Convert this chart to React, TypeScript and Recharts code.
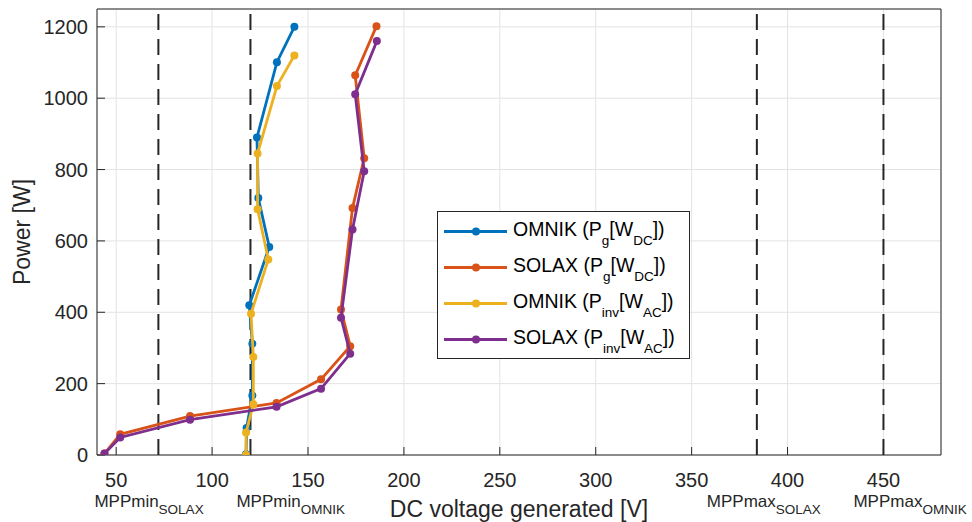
import {
  CartesianGrid,
  Legend,
  ReferenceLine,
  Scatter,
  ScatterChart,
  XAxis,
  YAxis,
} from "recharts";

const FONT = '"Liberation Sans", Arial, Helvetica, sans-serif';
const INK = "#262626";

// DC voltage [V] / power [W] per measurement, low to high load
const omnikPgVolts = [117.7, 118, 121, 121, 119.4, 129.8, 124.1, 123.4, 133.8, 142.9];
const omnikPgWatts = [2, 76, 167, 312, 420, 583, 720, 890, 1101, 1200];

const solaxPgVolts = [43.9, 52.1, 88.5, 133.6, 156.8, 172, 167.2, 173.2, 179.3, 174.6, 185.7];
const solaxPgWatts = [4, 58, 109, 146, 212, 305, 408, 692, 832, 1064, 1202];

const omnikInvVolts = [117.7, 117.7, 121.5, 121.5, 120.3, 129.3, 123.7, 123.7, 133.8, 142.9];
const omnikInvWatts = [0, 63, 142, 275, 396, 548, 689, 845, 1034, 1120];

const solaxInvVolts = [43.9, 52.1, 88.5, 133.6, 156.8, 172, 167.2, 173.2, 179.3, 174.6, 185.9];
const solaxInvWatts = [4, 49, 99, 135, 186, 284, 385, 632, 795, 1011, 1160];

const seriesNames = [
  "OMNIK (P_{g}[W_{DC}])",
  "SOLAX (P_{g}[W_{DC}])",
  "OMNIK (P_{inv}[W_{AC}])",
  "SOLAX (P_{inv}[W_{AC}])",
];

const xTicks = [50, 100, 150, 200, 250, 300, 350, 400, 450];
const yTicks = [0, 200, 400, 600, 800, 1000, 1200];

// MPP window limits of each inverter
const mppVolts = [72, 120, 384, 450];
const mppLabels = ["MPPmin_{SOLAX}", "MPPmin_{OMNIK}", "MPPmax_{SOLAX}", "MPPmax_{OMNIK}"];

// styling
const colors = ["#0072BD", "#D95319", "#EDB120", "#7E2F8E"];
const mppLabelDx = [-64, -14, -50, -30];

const series = [
  { volts: omnikPgVolts, watts: omnikPgWatts },
  { volts: solaxPgVolts, watts: solaxPgWatts },
  { volts: omnikInvVolts, watts: omnikInvWatts },
  { volts: solaxInvVolts, watts: solaxInvWatts },
].map((s, i) => ({
  name: seriesNames[i],
  color: colors[i],
  data: s.volts.map((v, j) => ({ v, p: s.watts[j] })),
}));

// tiny TeX-ish renderer: "A_{b}" -> A with subscript b
function TexText({
  x,
  y,
  label,
  size,
  subSize,
  shift,
  fill = INK,
}: {
  x: number;
  y: number;
  label: string;
  size: number;
  subSize: number;
  shift: number;
  fill?: string;
}) {
  const parts = label.split(/_\{([^}]*)\}/);
  let level = 0;
  const spans: any[] = [];
  parts.forEach((t, i) => {
    if (!t) return;
    const isSub = i % 2 === 1;
    const target = isSub ? shift : 0;
    spans.push(
      <tspan key={i} dy={target - level} fontSize={isSub ? subSize : size}>
        {t}
      </tspan>
    );
    level = target;
  });
  return (
    <text x={x} y={y} fill={fill} fontFamily={FONT} fontSize={size}>
      {spans}
    </text>
  );
}

function LegendBox() {
  return (
    <svg width={254} height={149} style={{ display: "block" }}>
      <rect x={0.5} y={0.5} width={252} height={147} fill="#fff" stroke={INK} />
      {series.map((s, i) => {
        const cy = 20.5 + 36 * i;
        return (
          <g key={s.name}>
            <line x1={7} x2={70} y1={cy} y2={cy} stroke={s.color} strokeWidth={2.8} />
            <circle cx={39} cy={cy} r={4} fill={s.color} />
            <TexText x={76} y={cy + 4.5} label={s.name} size={19.5} subSize={13.5} shift={8.5} fill="#000" />
          </g>
        );
      })}
    </svg>
  );
}

const tickStyle = { fill: INK, fontSize: 20, fontFamily: FONT };

export default function App() {
  return (
    <div style={{ position: "absolute", left: 0, top: 0, background: "#fff" }}>
      <ScatterChart width={972} height={522} margin={{ top: 8, right: 30, bottom: 0, left: 0 }}>
        <CartesianGrid stroke="#e3e3e3" />
        <XAxis
          dataKey="v"
          type="number"
          domain={[40, 480]}
          ticks={xTicks}
          interval={0}
          height={67}
          tick={tickStyle}
          tickSize={-8}
          tickMargin={26}
          axisLine={{ stroke: INK }}
          tickLine={{ stroke: INK }}
          allowDataOverflow
          label={(p: any) => (
            <text
              x={p.viewBox.x + p.viewBox.width / 2}
              y={p.viewBox.y + 62}
              textAnchor="middle"
              fill={INK}
              fontSize={23}
              fontFamily={FONT}
            >
              DC voltage generated [V]
            </text>
          )}
        />
        <XAxis
          xAxisId="top"
          orientation="top"
          type="number"
          domain={[40, 480]}
          ticks={xTicks}
          interval={0}
          height={1}
          tick={false}
          tickSize={-8}
          axisLine={{ stroke: INK }}
          tickLine={{ stroke: INK }}
          allowDataOverflow
        />
        <YAxis
          dataKey="p"
          type="number"
          domain={[0, 1250]}
          ticks={yTicks}
          interval={0}
          width={97}
          tick={tickStyle}
          tickSize={-8}
          tickMargin={17}
          axisLine={{ stroke: INK }}
          tickLine={{ stroke: INK }}
          allowDataOverflow
          label={(p: any) => {
            const x = p.viewBox.x + 30;
            const y = p.viewBox.y + p.viewBox.height / 2;
            return (
              <text
                x={x}
                y={y}
                transform={`rotate(-90, ${x}, ${y})`}
                textAnchor="middle"
                fill={INK}
                fontSize={23}
                fontFamily={FONT}
              >
                Power [W]
              </text>
            );
          }}
        />
        <YAxis
          yAxisId="right"
          orientation="right"
          type="number"
          domain={[0, 1250]}
          ticks={yTicks}
          interval={0}
          width={1}
          tick={false}
          tickSize={-8}
          axisLine={{ stroke: INK }}
          tickLine={{ stroke: INK }}
          allowDataOverflow
        />
        {series.map((s) => (
          <Scatter
            key={s.name}
            name={s.name}
            data={s.data}
            fill={s.color}
            line={{ stroke: s.color, strokeWidth: 2.8 }}
            lineType="joint"
            shape={(props: any) => <circle cx={props.cx} cy={props.cy} r={4} fill={s.color} />}
            isAnimationActive={false}
          />
        ))}
        {mppVolts.map((v, i) => (
          <ReferenceLine
            key={mppLabels[i]}
            x={v}
            stroke={INK}
            strokeWidth={2}
            strokeDasharray="16 9"
            label={(p: any) => (
              <TexText
                x={p.viewBox.x + mppLabelDx[i]}
                y={p.viewBox.y + p.viewBox.height + 51.7}
                label={mppLabels[i]}
                size={17}
                subSize={13.5}
                shift={7.6}
              />
            )}
          />
        ))}
        <Legend
          layout="vertical"
          align="center"
          verticalAlign="middle"
          content={() => <LegendBox />}
          wrapperStyle={{ left: 437, top: 211, width: 254, height: 149 }}
        />
      </ScatterChart>
    </div>
  );
}
